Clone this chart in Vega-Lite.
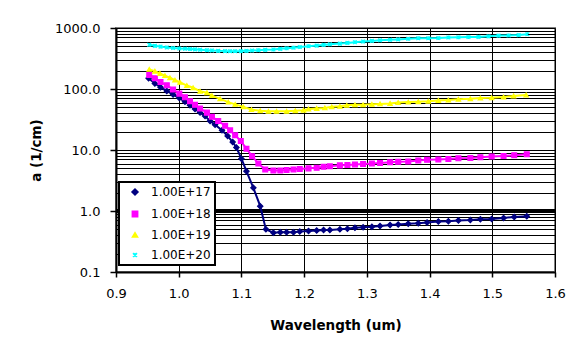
{
  "$schema": "https://vega.github.io/schema/vega-lite/v6.json",
  "width": 439,
  "height": 244,
  "autosize": {"type": "none"},
  "padding": {"left": 116, "top": 28, "right": 12, "bottom": 77},
  "background": "white",
  "config": {
    "font": "DejaVu Sans",
    "view": {"stroke": "#808080", "strokeWidth": 2},
    "legend": {"strokeWidth": 2}
  },
  "datasets": {
    "abs": [
      {"series": "1.00E+17", "x": 0.952, "y": 150},
      {"series": "1.00E+17", "x": 0.962, "y": 123},
      {"series": "1.00E+17", "x": 0.971, "y": 107},
      {"series": "1.00E+17", "x": 0.981, "y": 93},
      {"series": "1.00E+17", "x": 0.991, "y": 81},
      {"series": "1.00E+17", "x": 1.001, "y": 71},
      {"series": "1.00E+17", "x": 1.010, "y": 62},
      {"series": "1.00E+17", "x": 1.018, "y": 54},
      {"series": "1.00E+17", "x": 1.026, "y": 47},
      {"series": "1.00E+17", "x": 1.034, "y": 41},
      {"series": "1.00E+17", "x": 1.042, "y": 36},
      {"series": "1.00E+17", "x": 1.050, "y": 30},
      {"series": "1.00E+17", "x": 1.058, "y": 26},
      {"series": "1.00E+17", "x": 1.069, "y": 21},
      {"series": "1.00E+17", "x": 1.078, "y": 17},
      {"series": "1.00E+17", "x": 1.086, "y": 13.5},
      {"series": "1.00E+17", "x": 1.092, "y": 11},
      {"series": "1.00E+17", "x": 1.100, "y": 7.2},
      {"series": "1.00E+17", "x": 1.108, "y": 4.5},
      {"series": "1.00E+17", "x": 1.119, "y": 2.4},
      {"series": "1.00E+17", "x": 1.130, "y": 1.2},
      {"series": "1.00E+17", "x": 1.139, "y": 0.5},
      {"series": "1.00E+17", "x": 1.151, "y": 0.44},
      {"series": "1.00E+17", "x": 1.162, "y": 0.45},
      {"series": "1.00E+17", "x": 1.172, "y": 0.45},
      {"series": "1.00E+17", "x": 1.183, "y": 0.45},
      {"series": "1.00E+17", "x": 1.193, "y": 0.46},
      {"series": "1.00E+17", "x": 1.207, "y": 0.47},
      {"series": "1.00E+17", "x": 1.220, "y": 0.48},
      {"series": "1.00E+17", "x": 1.231, "y": 0.49},
      {"series": "1.00E+17", "x": 1.241, "y": 0.49},
      {"series": "1.00E+17", "x": 1.257, "y": 0.50},
      {"series": "1.00E+17", "x": 1.269, "y": 0.51},
      {"series": "1.00E+17", "x": 1.281, "y": 0.53},
      {"series": "1.00E+17", "x": 1.294, "y": 0.54},
      {"series": "1.00E+17", "x": 1.308, "y": 0.55},
      {"series": "1.00E+17", "x": 1.321, "y": 0.57},
      {"series": "1.00E+17", "x": 1.337, "y": 0.59},
      {"series": "1.00E+17", "x": 1.350, "y": 0.60},
      {"series": "1.00E+17", "x": 1.366, "y": 0.62},
      {"series": "1.00E+17", "x": 1.382, "y": 0.63},
      {"series": "1.00E+17", "x": 1.396, "y": 0.65},
      {"series": "1.00E+17", "x": 1.414, "y": 0.67},
      {"series": "1.00E+17", "x": 1.430, "y": 0.68},
      {"series": "1.00E+17", "x": 1.446, "y": 0.70},
      {"series": "1.00E+17", "x": 1.465, "y": 0.71},
      {"series": "1.00E+17", "x": 1.481, "y": 0.73},
      {"series": "1.00E+17", "x": 1.499, "y": 0.74},
      {"series": "1.00E+17", "x": 1.518, "y": 0.77},
      {"series": "1.00E+17", "x": 1.535, "y": 0.80},
      {"series": "1.00E+17", "x": 1.555, "y": 0.82},

      {"series": "1.00E+18", "x": 0.953, "y": 170},
      {"series": "1.00E+18", "x": 0.962, "y": 150},
      {"series": "1.00E+18", "x": 0.971, "y": 130},
      {"series": "1.00E+18", "x": 0.981, "y": 115},
      {"series": "1.00E+18", "x": 0.991, "y": 98},
      {"series": "1.00E+18", "x": 1.001, "y": 84},
      {"series": "1.00E+18", "x": 1.010, "y": 73},
      {"series": "1.00E+18", "x": 1.018, "y": 63},
      {"series": "1.00E+18", "x": 1.026, "y": 55},
      {"series": "1.00E+18", "x": 1.034, "y": 48},
      {"series": "1.00E+18", "x": 1.045, "y": 41},
      {"series": "1.00E+18", "x": 1.053, "y": 35},
      {"series": "1.00E+18", "x": 1.063, "y": 30},
      {"series": "1.00E+18", "x": 1.074, "y": 25},
      {"series": "1.00E+18", "x": 1.082, "y": 21},
      {"series": "1.00E+18", "x": 1.090, "y": 17.5},
      {"series": "1.00E+18", "x": 1.099, "y": 14},
      {"series": "1.00E+18", "x": 1.108, "y": 10.5},
      {"series": "1.00E+18", "x": 1.117, "y": 7.9},
      {"series": "1.00E+18", "x": 1.127, "y": 6.0},
      {"series": "1.00E+18", "x": 1.138, "y": 4.8},
      {"series": "1.00E+18", "x": 1.151, "y": 4.6},
      {"series": "1.00E+18", "x": 1.162, "y": 4.6},
      {"series": "1.00E+18", "x": 1.172, "y": 4.7},
      {"series": "1.00E+18", "x": 1.183, "y": 4.8},
      {"series": "1.00E+18", "x": 1.193, "y": 4.9},
      {"series": "1.00E+18", "x": 1.207, "y": 5.0},
      {"series": "1.00E+18", "x": 1.220, "y": 5.1},
      {"series": "1.00E+18", "x": 1.231, "y": 5.3},
      {"series": "1.00E+18", "x": 1.241, "y": 5.4},
      {"series": "1.00E+18", "x": 1.257, "y": 5.6},
      {"series": "1.00E+18", "x": 1.269, "y": 5.7},
      {"series": "1.00E+18", "x": 1.281, "y": 5.8},
      {"series": "1.00E+18", "x": 1.294, "y": 5.9},
      {"series": "1.00E+18", "x": 1.308, "y": 6.0},
      {"series": "1.00E+18", "x": 1.321, "y": 6.1},
      {"series": "1.00E+18", "x": 1.337, "y": 6.3},
      {"series": "1.00E+18", "x": 1.350, "y": 6.4},
      {"series": "1.00E+18", "x": 1.366, "y": 6.5},
      {"series": "1.00E+18", "x": 1.382, "y": 6.7},
      {"series": "1.00E+18", "x": 1.396, "y": 6.9},
      {"series": "1.00E+18", "x": 1.414, "y": 7.0},
      {"series": "1.00E+18", "x": 1.430, "y": 7.1},
      {"series": "1.00E+18", "x": 1.446, "y": 7.3},
      {"series": "1.00E+18", "x": 1.465, "y": 7.4},
      {"series": "1.00E+18", "x": 1.481, "y": 7.6},
      {"series": "1.00E+18", "x": 1.499, "y": 7.8},
      {"series": "1.00E+18", "x": 1.518, "y": 8.0},
      {"series": "1.00E+18", "x": 1.535, "y": 8.2},
      {"series": "1.00E+18", "x": 1.555, "y": 8.5},

      {"series": "1.00E+19", "x": 0.953, "y": 210},
      {"series": "1.00E+19", "x": 0.962, "y": 196},
      {"series": "1.00E+19", "x": 0.970, "y": 180},
      {"series": "1.00E+19", "x": 0.978, "y": 166},
      {"series": "1.00E+19", "x": 0.986, "y": 153},
      {"series": "1.00E+19", "x": 0.994, "y": 140},
      {"series": "1.00E+19", "x": 1.002, "y": 129},
      {"series": "1.00E+19", "x": 1.013, "y": 114},
      {"series": "1.00E+19", "x": 1.023, "y": 105},
      {"series": "1.00E+19", "x": 1.034, "y": 92},
      {"series": "1.00E+19", "x": 1.045, "y": 87},
      {"series": "1.00E+19", "x": 1.053, "y": 78},
      {"series": "1.00E+19", "x": 1.066, "y": 69},
      {"series": "1.00E+19", "x": 1.079, "y": 61},
      {"series": "1.00E+19", "x": 1.090, "y": 56},
      {"series": "1.00E+19", "x": 1.103, "y": 51},
      {"series": "1.00E+19", "x": 1.116, "y": 46},
      {"series": "1.00E+19", "x": 1.130, "y": 44},
      {"series": "1.00E+19", "x": 1.143, "y": 43},
      {"series": "1.00E+19", "x": 1.156, "y": 43},
      {"series": "1.00E+19", "x": 1.172, "y": 43},
      {"series": "1.00E+19", "x": 1.186, "y": 44},
      {"series": "1.00E+19", "x": 1.199, "y": 45},
      {"series": "1.00E+19", "x": 1.207, "y": 47},
      {"series": "1.00E+19", "x": 1.220, "y": 48},
      {"series": "1.00E+19", "x": 1.233, "y": 49},
      {"series": "1.00E+19", "x": 1.244, "y": 51},
      {"series": "1.00E+19", "x": 1.257, "y": 52},
      {"series": "1.00E+19", "x": 1.268, "y": 54},
      {"series": "1.00E+19", "x": 1.281, "y": 55},
      {"series": "1.00E+19", "x": 1.294, "y": 55},
      {"series": "1.00E+19", "x": 1.308, "y": 56},
      {"series": "1.00E+19", "x": 1.321, "y": 57},
      {"series": "1.00E+19", "x": 1.337, "y": 58},
      {"series": "1.00E+19", "x": 1.350, "y": 60},
      {"series": "1.00E+19", "x": 1.366, "y": 61},
      {"series": "1.00E+19", "x": 1.382, "y": 62},
      {"series": "1.00E+19", "x": 1.398, "y": 63},
      {"series": "1.00E+19", "x": 1.414, "y": 65},
      {"series": "1.00E+19", "x": 1.430, "y": 66},
      {"series": "1.00E+19", "x": 1.446, "y": 68},
      {"series": "1.00E+19", "x": 1.465, "y": 69},
      {"series": "1.00E+19", "x": 1.481, "y": 71},
      {"series": "1.00E+19", "x": 1.499, "y": 72},
      {"series": "1.00E+19", "x": 1.518, "y": 74},
      {"series": "1.00E+19", "x": 1.534, "y": 77},
      {"series": "1.00E+19", "x": 1.554, "y": 80},

      {"series": "1.00E+20", "x": 0.953, "y": 530},
      {"series": "1.00E+20", "x": 0.962, "y": 510},
      {"series": "1.00E+20", "x": 0.971, "y": 495},
      {"series": "1.00E+20", "x": 0.981, "y": 480},
      {"series": "1.00E+20", "x": 0.991, "y": 470},
      {"series": "1.00E+20", "x": 1.001, "y": 462},
      {"series": "1.00E+20", "x": 1.010, "y": 458},
      {"series": "1.00E+20", "x": 1.018, "y": 452},
      {"series": "1.00E+20", "x": 1.026, "y": 447},
      {"series": "1.00E+20", "x": 1.034, "y": 440},
      {"series": "1.00E+20", "x": 1.045, "y": 433},
      {"series": "1.00E+20", "x": 1.053, "y": 428},
      {"series": "1.00E+20", "x": 1.063, "y": 422},
      {"series": "1.00E+20", "x": 1.074, "y": 418},
      {"series": "1.00E+20", "x": 1.082, "y": 417},
      {"series": "1.00E+20", "x": 1.090, "y": 417},
      {"series": "1.00E+20", "x": 1.099, "y": 418},
      {"series": "1.00E+20", "x": 1.108, "y": 422},
      {"series": "1.00E+20", "x": 1.117, "y": 427},
      {"series": "1.00E+20", "x": 1.127, "y": 433},
      {"series": "1.00E+20", "x": 1.138, "y": 438},
      {"series": "1.00E+20", "x": 1.151, "y": 444},
      {"series": "1.00E+20", "x": 1.162, "y": 455},
      {"series": "1.00E+20", "x": 1.172, "y": 465},
      {"series": "1.00E+20", "x": 1.183, "y": 475},
      {"series": "1.00E+20", "x": 1.193, "y": 488},
      {"series": "1.00E+20", "x": 1.207, "y": 503},
      {"series": "1.00E+20", "x": 1.220, "y": 515},
      {"series": "1.00E+20", "x": 1.231, "y": 528},
      {"series": "1.00E+20", "x": 1.241, "y": 540},
      {"series": "1.00E+20", "x": 1.257, "y": 555},
      {"series": "1.00E+20", "x": 1.269, "y": 570},
      {"series": "1.00E+20", "x": 1.281, "y": 585},
      {"series": "1.00E+20", "x": 1.294, "y": 600},
      {"series": "1.00E+20", "x": 1.308, "y": 615},
      {"series": "1.00E+20", "x": 1.321, "y": 628},
      {"series": "1.00E+20", "x": 1.337, "y": 640},
      {"series": "1.00E+20", "x": 1.350, "y": 650},
      {"series": "1.00E+20", "x": 1.366, "y": 665},
      {"series": "1.00E+20", "x": 1.382, "y": 680},
      {"series": "1.00E+20", "x": 1.398, "y": 680},
      {"series": "1.00E+20", "x": 1.414, "y": 685},
      {"series": "1.00E+20", "x": 1.430, "y": 700},
      {"series": "1.00E+20", "x": 1.446, "y": 705},
      {"series": "1.00E+20", "x": 1.462, "y": 710},
      {"series": "1.00E+20", "x": 1.478, "y": 715},
      {"series": "1.00E+20", "x": 1.494, "y": 730},
      {"series": "1.00E+20", "x": 1.510, "y": 750},
      {"series": "1.00E+20", "x": 1.526, "y": 755},
      {"series": "1.00E+20", "x": 1.542, "y": 765},
      {"series": "1.00E+20", "x": 1.556, "y": 790}
    ]
  },
  "layer": [
    {
      "data": {"values": [{"y": 1}]},
      "mark": {"type": "rule", "color": "black", "strokeWidth": 4},
      "encoding": {
        "y": {"field": "y", "type": "quantitative"}
      }
    },
    {
      "data": {"name": "abs"},
      "mark": {"type": "line", "strokeWidth": 2},
      "encoding": {
        "x": {
          "field": "x", "type": "quantitative",
          "scale": {"domain": [0.9, 1.6], "nice": false, "zero": false},
          "axis": {
            "values": [0.9, 1.0, 1.1, 1.2, 1.3, 1.4, 1.5, 1.6],
            "format": ".1f",
            "grid": true, "gridColor": "black", "gridWidth": 1, "gridOpacity": 1,
            "domainColor": "black", "domainWidth": 2,
            "tickColor": "black", "tickSize": 5, "tickWidth": 1.5,
            "labelFont": "DejaVu Sans", "labelFontSize": 13, "labelColor": "black",
            "labelPadding": 10, "labelFlush": false, "labelOverlap": false,
            "title": "Wavelength (um)",
            "titleFont": "DejaVu Sans", "titleFontSize": 13.5, "titleFontWeight": "bold",
            "titleColor": "black", "titleY": 53, "titleBaseline": "middle"
          }
        },
        "y": {
          "field": "y", "type": "quantitative",
          "scale": {"type": "log", "domain": [0.1, 1000], "nice": false},
          "axis": {
            "values": [0.1, 0.2, 0.3, 0.4, 0.5, 0.6, 0.7, 0.8, 0.9, 1, 2, 3, 4, 5, 6, 7, 8, 9, 10, 20, 30, 40, 50, 60, 70, 80, 90, 100, 200, 300, 400, 500, 600, 700, 800, 900, 1000],
            "labelExpr": "indexof([0.1, 1, 10, 100, 1000], datum.value) >= 0 ? format(datum.value, '.1f') : ''",
            "tickOpacity": {"condition": {"test": "indexof([0.1, 1, 10, 100, 1000], datum.value) >= 0", "value": 1}, "value": 0},
            "grid": true, "gridColor": "black", "gridWidth": 1, "gridOpacity": 1,
            "domainColor": "black", "domainWidth": 2,
            "tickColor": "black", "tickSize": 6, "tickWidth": 1.5,
            "labelFont": "DejaVu Sans", "labelFontSize": 13, "labelColor": "black",
            "labelPadding": 10, "labelFlush": false, "labelOverlap": false,
            "title": "a  (1/cm)",
            "titleFont": "DejaVu Sans", "titleFontSize": 13.5, "titleFontWeight": "bold",
            "titleColor": "black", "titleX": -80, "titleY": 122, "titleBaseline": "middle", "titleAngle": 270
          }
        },
        "color": {
          "field": "series", "type": "nominal",
          "scale": {"domain": ["1.00E+17", "1.00E+18", "1.00E+19", "1.00E+20"], "range": ["#000080", "#FF00FF", "#FFFF00", "#00FFFF"]},
          "legend": {
            "title": null,
            "orient": "none", "legendX": 3, "legendY": 154,
            "direction": "vertical",
            "fillColor": "white", "strokeColor": "black",
            "padding": 4, "symbolOffset": 6, "labelOffset": 10, "rowPadding": 8,
            "symbolSize": 130, "symbolStrokeWidth": 2,
            "labelFont": "DejaVu Sans", "labelFontSize": 12, "labelColor": "black"
          }
        }
      }
    },
    {
      "data": {"name": "abs"},
      "mark": {"type": "point", "filled": true, "opacity": 1, "strokeWidth": 1.2},
      "encoding": {
        "x": {"field": "x", "type": "quantitative"},
        "y": {"field": "y", "type": "quantitative"},
        "fill": {
          "field": "series", "type": "nominal",
          "scale": {"domain": ["1.00E+17", "1.00E+18", "1.00E+19", "1.00E+20"], "range": ["#000080", "#FF00FF", "#FFFF00", "#00FFFF"]},
          "legend": null
        },
        "stroke": {
          "field": "series", "type": "nominal",
          "scale": {"domain": ["1.00E+17", "1.00E+18", "1.00E+19", "1.00E+20"], "range": ["#000080", "#FF00FF", "#FFFF00", "#00FFFF"]},
          "legend": null
        },
        "shape": {
          "field": "series", "type": "nominal",
          "scale": {"domain": ["1.00E+17", "1.00E+18", "1.00E+19", "1.00E+20"], "range": ["diamond", "square", "triangle-up", "M-1,-1L1,1M-1,1L1,-1M0,-1V1"]},
          "legend": null
        },
        "size": {
          "field": "series", "type": "ordinal",
          "scale": {"domain": ["1.00E+17", "1.00E+18", "1.00E+19", "1.00E+20"], "range": [28, 14, 36, 32]},
          "legend": null
        }
      }
    }
  ]
}
